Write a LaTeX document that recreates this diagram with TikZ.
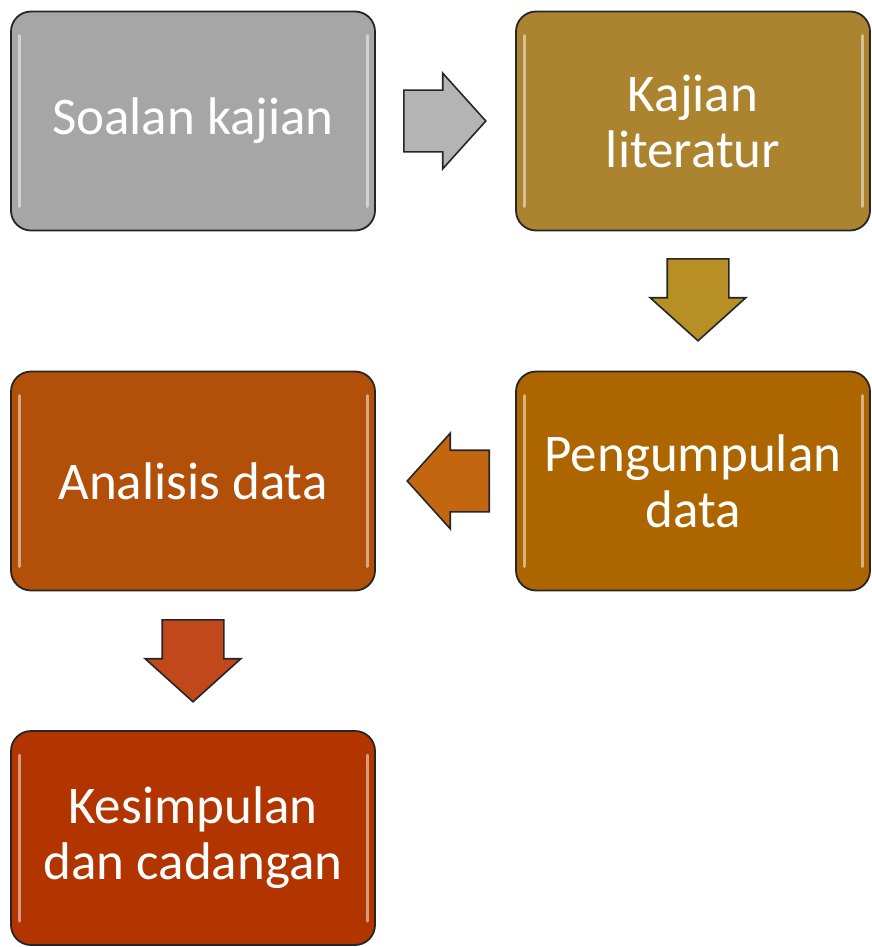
\documentclass[tikz,border=0pt]{standalone}
\usepackage{fontspec}
\setmainfont{Carlito}
\usetikzlibrary{shapes.arrows}

\definecolor{boxgray}{HTML}{A6A6A6}
\definecolor{boxgold}{HTML}{AC832F}
\definecolor{boxamber}{HTML}{AD6500}
\definecolor{boxrust}{HTML}{B24F09}
\definecolor{boxbrick}{HTML}{B23500}
\definecolor{arrgray}{HTML}{B4B4B4}
\definecolor{arrgold}{HTML}{B88F24}
\definecolor{arramber}{HTML}{C2660F}
\definecolor{arrrust}{HTML}{C0481A}

\tikzset{
  stagebox/.style={draw=black!85, line width=1.8pt, rounded corners=20pt, fill=#1,
    minimum width=364pt, minimum height=219pt, inner sep=0pt, align=center,
    text=white, font=\fontsize{53}{56}\selectfont,
    path picture={
      \draw[white, opacity=0.5, line width=3pt, line cap=round]
        ([xshift=8pt,yshift=-24pt]path picture bounding box.north west) --
        ([xshift=8pt,yshift=24pt]path picture bounding box.south west);
      \draw[white, opacity=0.5, line width=3pt, line cap=round]
        ([xshift=-8pt,yshift=-24pt]path picture bounding box.north east) --
        ([xshift=-8pt,yshift=24pt]path picture bounding box.south east);
    }},
  flowarrow/.style={single arrow, draw=black!85, line width=1.6pt, fill=#1,
    minimum width=94pt, minimum height=82pt, inner xsep=0pt, inner ysep=30pt,
    single arrow head extend=17pt, single arrow tip angle=96, anchor=tail},
}

\begin{document}
\begin{tikzpicture}[x=1pt, y=-1pt]
	\useasboundingbox (0,0) rectangle (871,947);

	% stages
	\node[stagebox=boxgray] (soalan) at (193,121) {Soalan kajian};
	\node[stagebox=boxgold, minimum width=354pt] (kajian) at (693,121) {Kajian\\literatur};
	\node[stagebox=boxamber, minimum width=354pt] (kumpul) at (693,481) {Pengumpulan\\data};
	\node[stagebox=boxrust] (analisis) at (193,481) {Analisis data};
	\node[stagebox=boxbrick, minimum height=214pt] (simpul) at (193,838) {Kesimpulan\\dan cadangan};

	% arrows between stages
	\node[flowarrow=arrgray] (a1) at (403,121) {};
	\node[flowarrow=arrgold, rotate=-90] (a2) at (698,258) {};
	\node[flowarrow=arramber, rotate=180] (a3) at (490,481) {};
	\node[flowarrow=arrrust, rotate=-90] (a4) at (193,619) {};
\end{tikzpicture}
\end{document}
